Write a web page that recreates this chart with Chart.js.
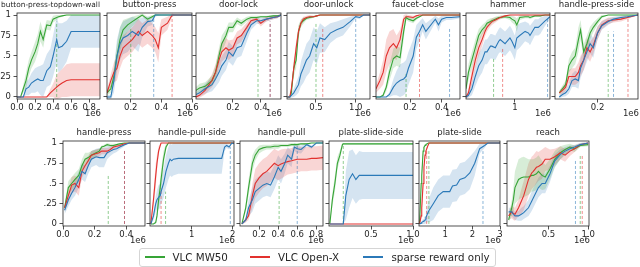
<!DOCTYPE html>
<html><head><meta charset="utf-8">
<script src="https://cdn.jsdelivr.net/npm/chart.js@4.4.1/dist/chart.umd.min.js"></script>
<style>
html,body{margin:0;padding:0;background:#fff;width:640px;height:267px;overflow:hidden;font-family:"DejaVu Sans",sans-serif;}
#wrap{position:relative;width:640px;height:267px;}
#wrap canvas{position:absolute;left:0;top:0;}
.lg{position:absolute;font-size:10.3px;color:#262626;line-height:12px;white-space:nowrap;}
.ll{position:absolute;height:0;width:20px;border-top-style:solid;border-top-width:2px;}
#legend{position:absolute;border:1px solid #d5d5d5;border-radius:3px;box-sizing:border-box;}
</style></head>
<body><div id="wrap"></div>
<script>
// ---------------- data ----------------
const panelTitles = ['button-press-topdown-wall','button-press','door-lock','door-unlock','faucet-close','hammer','handle-press-side',
                     'handle-press','handle-pull-side','handle-pull','plate-slide-side','plate-slide','reach'];
const legendLabels = ['VLC MW50','VLC Open-X','sparse reward only'];
const yTicks = [0, 0.25, 0.5, 0.75, 1];
const yTickLabels = ['0', '.25', '.5', '.75', '1'];
const offsetText = '1e6';

// button-press-topdown-wall
const bptwX = [0,0.04,0.07,0.1,0.13,0.16,0.2,0.23,0.26,0.29,0.33,0.37,0.4,0.44,0.46,0.5,0.55,0.6,0.7,0.8,0.92];
const bptwGreen = [0,0,0.1,0.2,0.35,0.45,0.55,0.65,0.8,0.7,0.88,0.87,0.95,0.97,0.98,0.99,1,1,1,1,1];
const bptwGreenSd = [0,0,0.05,0.1,0.1,0.1,0.12,0.12,0.12,0.1,0.06,0.06,0.04,0.03,0.02,0.01,0,0,0,0,0];
const bptwRed = [0,0,0,0,0,0,0,0,0,0,0,0.05,0.08,0.12,0.14,0.17,0.2,0.21,0.21,0.21,0.21];
const bptwRedSd = [0,0,0,0,0,0,0,0,0,0,0,0.05,0.08,0.15,0.16,0.17,0.2,0.2,0.2,0.2,0.2];
const bptwBlue = [0,0,0,0.1,0.12,0.17,0.2,0.22,0.2,0.2,0.32,0.37,0.5,0.7,0.6,0.62,0.68,0.8,0.8,0.8,0.8];
const bptwBlueSd = [0,0,0,0.08,0.1,0.12,0.15,0.15,0.18,0.2,0.2,0.22,0.25,0.28,0.3,0.28,0.25,0.2,0.2,0.2,0.2];
const bptwDashX = [0.44,null,null], bptwDashTop = [0.92,null,null];
const bptwTicks = [0,0.2,0.4,0.6,0.8], bptwTickLabels = ['0.0','0.2','0.4','0.6','0.8'];

// button-press
const bpX = [0.045,0.07,0.09,0.11,0.13,0.15,0.18,0.21,0.25,0.275,0.31,0.34,0.36,0.38,0.4,0.44,0.47,0.5,0.55,0.6];
const bpGreen = [0.05,0.1,0.25,0.5,0.7,0.82,0.88,0.92,0.97,1,0.95,0.98,1,1,1,1,1,1,1,1];
const bpGreenSd = [0.03,0.05,0.1,0.15,0.15,0.12,0.08,0.06,0.03,0.02,0.03,0.02,0,0,0,0,0,0,0,0];
const bpRed = [0.05,0.2,0.3,0.35,0.5,0.6,0.65,0.7,0.8,0.75,0.8,0.75,0.7,0.6,0.85,0.9,1,1,1,1];
const bpRedSd = [0.03,0.08,0.12,0.15,0.15,0.15,0.15,0.15,0.15,0.15,0.15,0.15,0.15,0.18,0.1,0.08,0.02,0,0,0];
const bpBlue = [0,0,0.2,0.5,0.65,0.72,0.75,0.8,0.75,0.85,0.92,0.93,1,1,1,1,1,1,1,1];
const bpBlueSd = [0.02,0.03,0.15,0.2,0.2,0.2,0.2,0.18,0.2,0.12,0.06,0.05,0.02,0.01,0,0,0,0,0,0];
const bpDashX = [0.2,0.47,0.35], bpDashTop = [0.85,1.0,0.95];
const bpTicks = [0.2,0.4,0.6], bpTickLabels = ['0.2','0.4','0.6'];

// door-lock
const dlX = [-0.065,-0.04,0,0.05,0.075,0.1,0.12,0.15,0.17,0.2,0.23,0.26,0.3,0.33,0.37,0.4,0.44,0.49,0.52,0.545];
const dlGreen = [0.08,0.11,0.13,0.2,0.3,0.5,0.65,0.75,0.85,0.85,0.93,0.9,0.95,0.97,0.97,0.98,0.98,0.99,0.99,1];
const dlGreenSd = [0.04,0.05,0.05,0.06,0.08,0.1,0.1,0.08,0.06,0.06,0.04,0.04,0.03,0.02,0.02,0.01,0.01,0.01,0.01,0];
const dlRed = [0,0.02,0.08,0.2,0.3,0.45,0.55,0.6,0.57,0.6,0.72,0.75,0.85,0.93,0.95,0.9,0.95,0.97,0.98,1];
const dlRedSd = [0.02,0.03,0.05,0.08,0.1,0.12,0.12,0.12,0.12,0.1,0.08,0.08,0.06,0.04,0.03,0.04,0.03,0.02,0.02,0.01];
const dlBlue = [0.03,0.05,0.1,0.15,0.22,0.3,0.38,0.45,0.55,0.5,0.6,0.62,0.78,0.88,0.93,0.93,0.95,0.97,0.98,1];
const dlBlueSd = [0.03,0.04,0.06,0.08,0.1,0.12,0.12,0.12,0.12,0.12,0.12,0.12,0.1,0.06,0.04,0.04,0.03,0.02,0.02,0.01];
const dlDashX = [0.38,0.467,0.467], dlDashTop = [0.7,0.92,0.92];
const dlTicks = [0.2,0.4], dlTickLabels = ['0.2','0.4'];

// door-unlock
const duX = [0.14,0.17,0.19,0.22,0.25,0.28,0.31,0.34,0.38,0.42,0.47,0.51,0.55,0.61,0.68,0.76,0.84,0.93,1.0,1.05,1.1,1.18];
const duGreen = [0,0,0.05,0.35,0.45,0.8,0.9,0.93,0.96,0.97,0.98,0.99,1,1,1,1,1,1,1,1,1,1];
const duGreenSd = [0,0.01,0.03,0.1,0.1,0.08,0.05,0.04,0.02,0.02,0.01,0.01,0,0,0,0,0,0,0,0,0,0];
const duRed = [0,0,0.1,0.35,0.6,0.8,0.9,0.95,0.97,0.98,0.98,0.99,1,1,1,1,1,1,1,1,1,1];
const duRedSd = [0,0.01,0.04,0.08,0.08,0.06,0.04,0.03,0.02,0.02,0.01,0.01,0,0,0,0,0,0,0,0,0,0];
const duBlue = [0,0,0.02,0.05,0.1,0.15,0.28,0.35,0.45,0.5,0.65,0.6,0.72,0.7,0.78,0.82,0.85,0.92,0.98,0.97,1,1];
const duBlueSd = [0,0.01,0.03,0.05,0.08,0.1,0.15,0.18,0.2,0.2,0.2,0.2,0.18,0.15,0.12,0.1,0.1,0.06,0.02,0.02,0,0];
const duDashX = [0.5,0.585,1.0], duDashTop = [0.9,0.83,0.98];
const duTicks = [0.5,1.0], duTickLabels = ['0.5','1.0'];

// faucet-close
const fcX = [-0.015,0.01,0.03,0.05,0.07,0.095,0.115,0.137,0.16,0.175,0.19,0.22,0.24,0.26,0.28,0.3,0.34,0.36,0.38,0.4,0.43,0.46,0.516];
const fcGreen = [0,0,0.02,0.12,0.3,0.47,0.5,0.48,0.8,0.97,0.95,0.93,0.96,0.98,1,1,1,1,1,1,1,1,1];
const fcGreenSd = [0,0,0.02,0.05,0.1,0.12,0.12,0.12,0.1,0.03,0.03,0.03,0.02,0.01,0,0,0,0,0,0,0,0,0];
const fcRed = [0.1,0.2,0.3,0.5,0.6,0.65,0.6,0.7,0.95,0.98,0.98,0.97,0.99,1,1,1,1,1,1,1,1,1,1];
const fcRedSd = [0.05,0.1,0.15,0.2,0.2,0.18,0.15,0.12,0.05,0.03,0.02,0.02,0.01,0,0,0,0,0,0,0,0,0,0];
const fcBlue = [0,0,0,0,0.03,0.12,0.17,0.2,0.22,0.25,0.35,0.5,0.73,0.8,0.88,0.8,0.9,0.95,0.88,0.95,0.97,0.97,0.98];
const fcBlueSd = [0,0,0,0,0.03,0.1,0.15,0.2,0.2,0.2,0.2,0.2,0.15,0.12,0.08,0.1,0.06,0.04,0.08,0.04,0.03,0.03,0.02];
const fcDashX = [0.175,0.26,0.45], fcDashTop = [0.3,0.77,0.85];
const fcTicks = [0.2,0.4], fcTickLabels = ['0.2','0.4'];

// hammer
const hmX = [0,0.05,0.12,0.19,0.26,0.33,0.39,0.43,0.5,0.53,0.6,0.67,0.7,0.8,0.9,0.94,1.0,1.04,1.1,1.21,1.28,1.31,1.41,1.48,1.52,1.62,1.72];
const hmGreen = [0.1,0.3,0.45,0.6,0.75,0.82,0.86,0.9,0.92,0.93,0.95,0.97,0.97,0.98,0.97,0.95,0.93,0.88,0.97,0.98,0.98,0.97,0.99,0.99,0.99,1,1];
const hmGreenSd = [0.05,0.1,0.1,0.1,0.08,0.06,0.05,0.04,0.04,0.03,0.03,0.02,0.02,0.02,0.03,0.04,0.05,0.08,0.03,0.02,0.02,0.02,0.01,0.01,0.01,0,0];
const hmRed = [0,0.05,0.25,0.45,0.6,0.7,0.8,0.85,0.9,0.92,0.94,0.96,0.97,0.99,1,1,1,1,1,1,1,1,1,1,1,1,1];
const hmRedSd = [0.02,0.05,0.1,0.1,0.1,0.08,0.06,0.05,0.04,0.04,0.03,0.02,0.02,0.01,0,0,0,0,0,0,0,0,0,0,0,0,0];
const hmBlue = [0,0.02,0.1,0.25,0.38,0.45,0.55,0.55,0.62,0.62,0.6,0.68,0.7,0.65,0.72,0.68,0.6,0.72,0.75,0.8,0.78,0.75,0.85,0.85,0.87,0.93,0.98];
const hmBlueSd = [0.02,0.03,0.08,0.12,0.15,0.15,0.15,0.15,0.15,0.15,0.15,0.15,0.15,0.15,0.15,0.15,0.15,0.15,0.15,0.12,0.12,0.12,0.1,0.1,0.1,0.06,0.03];
const hmDashX = [0.565,0.75,1.67], hmDashTop = [0.48,0.6,0.96];
const hmTicks = [1], hmTickLabels = ['1'];

// handle-press-side
const hpsX = [0.02,0.035,0.05,0.065,0.08,0.095,0.11,0.12,0.135,0.15,0.165,0.18,0.2,0.22,0.25,0.275,0.31,0.34,0.39];
const hpsGreen = [0.05,0.1,0.15,0.38,0.45,0.5,0.7,0.82,0.55,0.65,0.78,0.85,0.92,0.98,1,1,1,1,1];
const hpsGreenSd = [0.02,0.04,0.05,0.08,0.1,0.1,0.15,0.12,0.1,0.1,0.08,0.06,0.04,0.02,0,0,0,0,0];
const hpsRed = [0.05,0.08,0.12,0.25,0.25,0.25,0.3,0.38,0.45,0.6,0.55,0.63,0.78,0.88,0.93,0.94,0.95,0.97,1];
const hpsRedSd = [0.03,0.04,0.05,0.08,0.1,0.1,0.12,0.12,0.12,0.12,0.12,0.1,0.08,0.05,0.04,0.03,0.03,0.02,0];
const hpsBlue = [0,0.03,0.05,0.1,0.2,0.22,0.2,0.35,0.45,0.55,0.65,0.6,0.78,0.87,0.92,0.95,0.97,0.98,1];
const hpsBlueSd = [0.02,0.03,0.04,0.06,0.08,0.1,0.1,0.12,0.12,0.12,0.12,0.12,0.08,0.05,0.04,0.03,0.02,0.02,0];
const hpsDashX = [0.25,0.343,0.275], hpsDashTop = [0.8,0.96,0.8];
const hpsTicks = [0.2], hpsTickLabels = ['0.2'];

// handle-press
const hpX = [0.01,0.034,0.055,0.076,0.1,0.12,0.14,0.16,0.18,0.21,0.23,0.245,0.26,0.28,0.3,0.32,0.34,0.36,0.39,0.42,0.52];
const hpGreen = [0.2,0.45,0.5,0.55,0.6,0.72,0.8,0.82,0.85,0.88,0.9,0.95,0.96,0.98,0.97,0.97,0.98,0.99,1,1,1];
const hpGreenSd = [0.05,0.08,0.08,0.08,0.08,0.08,0.08,0.06,0.05,0.04,0.03,0.02,0.02,0.02,0.02,0.02,0.01,0.01,0,0,0];
const hpRed = [0.2,0.35,0.48,0.5,0.45,0.65,0.72,0.78,0.85,0.87,0.88,0.9,0.9,0.9,0.92,0.95,0.96,0.97,0.99,1,1];
const hpRedSd = [0.05,0.08,0.1,0.1,0.1,0.08,0.08,0.06,0.05,0.05,0.05,0.04,0.04,0.04,0.03,0.03,0.02,0.02,0.01,0,0];
const hpBlue = [0.17,0.3,0.38,0.45,0.55,0.65,0.62,0.72,0.8,0.83,0.82,0.82,0.82,0.88,0.9,0.92,0.93,0.95,0.98,1,1];
const hpBlueSd = [0.05,0.08,0.08,0.1,0.1,0.1,0.1,0.1,0.1,0.1,0.12,0.12,0.12,0.08,0.06,0.05,0.04,0.03,0.02,0,0];
const hpDashX = [0.287,0.39,0.39], hpDashTop = [0.6,0.91,0.91];
const hpTicks = [0,0.2,0.4], hpTickLabels = ['0.0','0.2','0.4'];

// handle-pull-side
const hplsX = [0,0.065,0.12,0.15,0.19,0.23,0.25,0.31,0.37,0.43,0.47,0.51,0.55,0.67,1.0,1.4,1.73,1.8,1.85,1.91,1.98,2.03];
const hplsGreen = [0,0,0.02,0.1,0.3,0.45,0.55,0.8,0.95,1,1,1,1,1,1,1,1,1,1,1,1,1];
const hplsGreenSd = [0,0,0.02,0.05,0.1,0.12,0.12,0.1,0.04,0,0,0,0,0,0,0,0,0,0,0,0,0];
const hplsRed = [0,0.3,0.6,0.75,0.9,0.97,1,1,1,1,1,1,1,1,1,1,1,1,1,1,1,1];
const hplsRedSd = [0,0.1,0.15,0.1,0.06,0.02,0,0,0,0,0,0,0,0,0,0,0,0,0,0,0,0];
const hplsBlue = [0,0.1,0.25,0.3,0.33,0.35,0.4,0.5,0.65,0.75,0.8,0.78,0.8,0.81,0.81,0.81,0.81,0.95,0.97,0.95,1,0.99];
const hplsBlueSd = [0,0.05,0.1,0.12,0.15,0.15,0.15,0.18,0.2,0.2,0.2,0.2,0.2,0.19,0.19,0.19,0.19,0.05,0.03,0.03,0,0];
const hplsDashX = [0.36,0.25,1.94], hplsDashTop = [0.4,0.44,0.95];
const hplsTicks = [1,2], hplsTickLabels = ['1','2'];

// handle-pull
const hplX = [0.02,0.06,0.09,0.13,0.16,0.2,0.24,0.28,0.32,0.36,0.4,0.43,0.47,0.5,0.54,0.57,0.6,0.64,0.7,0.75,0.8,0.87];
const hplGreen = [0,0.2,0.45,0.75,0.85,0.92,0.94,0.95,0.95,0.96,0.96,0.97,0.97,0.97,0.98,0.98,0.98,0.99,0.99,1,1,1];
const hplGreenSd = [0,0.05,0.1,0.1,0.07,0.05,0.04,0.03,0.03,0.03,0.03,0.02,0.02,0.02,0.02,0.02,0.02,0.01,0.01,0,0,0];
const hplRed = [0,0.05,0.1,0.35,0.5,0.57,0.62,0.65,0.7,0.75,0.72,0.74,0.76,0.77,0.78,0.79,0.8,0.8,0.8,0.81,0.81,0.82];
const hplRedSd = [0,0.03,0.05,0.15,0.18,0.18,0.18,0.18,0.18,0.18,0.18,0.18,0.17,0.16,0.16,0.16,0.16,0.15,0.15,0.15,0.15,0.15];
const hplBlue = [0,0.05,0.2,0.3,0.4,0.44,0.48,0.5,0.48,0.58,0.7,0.65,0.75,0.85,0.8,0.95,0.93,0.92,0.98,0.95,1,1];
const hplBlueSd = [0,0.03,0.1,0.15,0.15,0.15,0.15,0.15,0.15,0.15,0.15,0.15,0.12,0.1,0.1,0.05,0.05,0.05,0.02,0.02,0,0];
const hplDashX = [0.41,null,0.6], hplDashTop = [0.5,null,0.97];
const hplTicks = [0.2,0.4,0.6,0.8], hplTickLabels = ['0.2','0.4','0.6','0.8'];

// plate-slide-side
const pssX = [0.01,0.04,0.07,0.1,0.13,0.16,0.17,0.2,0.24,0.28,0.32,0.36,0.4,0.6,0.8,1.0];
const pssGreen = [0,0.3,0.5,0.75,0.85,0.98,0.99,0.99,0.99,0.99,0.99,0.99,0.99,0.99,0.99,0.99];
const pssGreenSd = [0,0.08,0.1,0.08,0.06,0.02,0.01,0.01,0.01,0.01,0.01,0.01,0.01,0.01,0.01,0.01];
const pssRed = [0,0,0,0,0,0,0,0,0,0,0,0,0,0,0,0];
const pssRedSd = [0,0,0,0,0,0,0,0,0,0,0,0,0,0,0,0];
const pssBlue = [0,0,0,0,0,0,0,0.35,0.55,0.62,0.55,0.6,0.6,0.6,0.6,0.6];
const pssBlueSd = [0,0,0,0,0,0,0,0.3,0.35,0.3,0.3,0.3,0.29,0.29,0.29,0.29];
const pssDashX = [0.17,null,null], pssDashTop = [0.99,null,null];
const pssTicks = [0.5,1.0], pssTickLabels = ['0.5','1.0'];

// plate-slide
const psX = [0.07,0.13,0.15,0.2,0.23,0.27,0.3,0.39,0.42,0.57,0.75,0.93,1.17,1.27,1.42,1.54,1.72,1.9,2.08,2.26,2.44,2.56,3.0];
const psGreen = [0,0.5,0.6,0.9,0.95,0.97,0.98,1,1,1,1,1,1,1,1,1,1,1,1,1,1,1,1];
const psGreenSd = [0,0.08,0.08,0.05,0.03,0.02,0.01,0,0,0,0,0,0,0,0,0,0,0,0,0,0,0,0];
const psRed = [0,0.1,0.2,0.5,0.7,0.85,0.9,0.98,1,1,1,1,1,1,1,1,1,1,1,1,1,1,1];
const psRedSd = [0,0.05,0.08,0.1,0.08,0.05,0.04,0.01,0,0,0,0,0,0,0,0,0,0,0,0,0,0,0];
const psBlue = [0,0.01,0.02,0.03,0.04,0.05,0.08,0.15,0.17,0.25,0.35,0.4,0.4,0.47,0.48,0.55,0.57,0.63,0.75,0.93,0.97,1,1];
const psBlueSd = [0,0.01,0.02,0.03,0.04,0.05,0.07,0.12,0.15,0.2,0.2,0.2,0.2,0.2,0.2,0.2,0.2,0.2,0.15,0.06,0.03,0,0];
const psDashX = [0.41,0.33,2.38], psDashTop = [0.9,0.9,0.9];
const psTicks = [1,2,3], psTickLabels = ['1','2','3'];

// reach
const rcX = [0,0.04,0.06,0.08,0.125,0.16,0.19,0.25,0.29,0.31,0.35,0.375,0.42,0.46,0.52,0.58,0.65,0.71,0.77,0.83,0.9,1.0];
const rcGreen = [0.05,0.2,0.3,0.45,0.55,0.57,0.58,0.58,0.6,0.6,0.62,0.65,0.6,0.58,0.68,0.8,0.88,0.92,0.95,0.93,0.97,0.98];
const rcGreenSd = [0.03,0.1,0.15,0.2,0.25,0.25,0.25,0.22,0.2,0.2,0.2,0.2,0.18,0.15,0.12,0.1,0.08,0.06,0.04,0.04,0.02,0.02];
const rcRed = [0.1,0.15,0.13,0.12,0.2,0.28,0.35,0.55,0.63,0.65,0.7,0.71,0.74,0.8,0.8,0.83,0.88,0.85,0.9,0.93,0.98,1];
const rcRedSd = [0.05,0.08,0.08,0.08,0.1,0.15,0.18,0.2,0.2,0.2,0.2,0.18,0.18,0.15,0.12,0.1,0.08,0.08,0.06,0.04,0.02,0.01];
const rcBlue = [0.15,0.15,0.12,0.1,0.1,0.12,0.14,0.2,0.28,0.32,0.4,0.45,0.5,0.5,0.62,0.78,0.86,0.9,0.93,0.95,0.98,1];
const rcBlueSd = [0.05,0.05,0.05,0.05,0.06,0.08,0.08,0.1,0.12,0.12,0.12,0.12,0.12,0.12,0.1,0.08,0.06,0.05,0.04,0.03,0.02,0.01];
const rcDashX = [0.9,0.925,0.84], rcDashTop = [0.85,0.85,0.8];
const rcTicks = [0.5,1.0], rcTickLabels = ['0.5','1.0'];

// ---------------- panel assembly ----------------
const panelSeries = [
  [bptwX,[bptwGreen,bptwRed,bptwBlue],[bptwGreenSd,bptwRedSd,bptwBlueSd],bptwDashX,bptwDashTop,bptwTicks,bptwTickLabels],
  [bpX,[bpGreen,bpRed,bpBlue],[bpGreenSd,bpRedSd,bpBlueSd],bpDashX,bpDashTop,bpTicks,bpTickLabels],
  [dlX,[dlGreen,dlRed,dlBlue],[dlGreenSd,dlRedSd,dlBlueSd],dlDashX,dlDashTop,dlTicks,dlTickLabels],
  [duX,[duGreen,duRed,duBlue],[duGreenSd,duRedSd,duBlueSd],duDashX,duDashTop,duTicks,duTickLabels],
  [fcX,[fcGreen,fcRed,fcBlue],[fcGreenSd,fcRedSd,fcBlueSd],fcDashX,fcDashTop,fcTicks,fcTickLabels],
  [hmX,[hmGreen,hmRed,hmBlue],[hmGreenSd,hmRedSd,hmBlueSd],hmDashX,hmDashTop,hmTicks,hmTickLabels],
  [hpsX,[hpsGreen,hpsRed,hpsBlue],[hpsGreenSd,hpsRedSd,hpsBlueSd],hpsDashX,hpsDashTop,hpsTicks,hpsTickLabels],
  [hpX,[hpGreen,hpRed,hpBlue],[hpGreenSd,hpRedSd,hpBlueSd],hpDashX,hpDashTop,hpTicks,hpTickLabels],
  [hplsX,[hplsGreen,hplsRed,hplsBlue],[hplsGreenSd,hplsRedSd,hplsBlueSd],hplsDashX,hplsDashTop,hplsTicks,hplsTickLabels],
  [hplX,[hplGreen,hplRed,hplBlue],[hplGreenSd,hplRedSd,hplBlueSd],hplDashX,hplDashTop,hplTicks,hplTickLabels],
  [pssX,[pssGreen,pssRed,pssBlue],[pssGreenSd,pssRedSd,pssBlueSd],pssDashX,pssDashTop,pssTicks,pssTickLabels],
  [psX,[psGreen,psRed,psBlue],[psGreenSd,psRedSd,psBlueSd],psDashX,psDashTop,psTicks,psTickLabels],
  [rcX,[rcGreen,rcRed,rcBlue],[rcGreenSd,rcRedSd,rcBlueSd],rcDashX,rcDashTop,rcTicks,rcTickLabels]
];

// layout (positions / axis limits / styles)
const boxes = [
  {l:17,r:100,t:13,b:99,xmin:0,xmax:0.92,yl:true,ts:7.4,tx:50.5},
  {l:107,r:192,t:13,b:99,xmin:0.045,xmax:0.6},
  {l:196,r:281,t:13,b:99,xmin:-0.065,xmax:0.545},
  {l:287,r:370,t:13,b:99,xmin:0.135,xmax:1.18},
  {l:376,r:460,t:13,b:99,xmin:-0.015,xmax:0.516},
  {l:466,r:550,t:13,b:99,xmin:0,xmax:1.72},
  {l:555,r:638,t:13,b:99,xmin:0,xmax:0.39},
  {l:63,r:145,t:141,b:226,xmin:0,xmax:0.52,yl:true},
  {l:150,r:234,t:141,b:226,xmin:-0.02,xmax:2.03},
  {l:240,r:323,t:141,b:226,xmin:0,xmax:0.87},
  {l:329,r:413,t:141,b:226,xmin:0,xmax:1.0},
  {l:419,r:500,t:141,b:226,xmin:0.05,xmax:3.0},
  {l:507,r:589,t:141,b:226,xmin:-0.02,xmax:1.01}
];
const COLORS = ['#36a436', '#e2312e', '#2b79b8'];
const INK = '#262626';
function rgba(hex, a) {
  const n = parseInt(hex.slice(1), 16);
  return `rgba(${(n>>16)&255},${(n>>8)&255},${n&255},${a})`;
}

Chart.defaults.font.family = '"DejaVu Sans", sans-serif';
Chart.defaults.color = INK;

const decor = {
  id: 'decor',
  afterDraw(chart, args, o) {
    const {ctx, chartArea: a} = chart;
    ctx.save();
    ctx.strokeStyle = INK; ctx.lineWidth = 0.8;
    ctx.strokeRect(a.left, a.top, a.right - a.left, a.bottom - a.top);
    ctx.fillStyle = INK;
    ctx.font = o.titleSize + 'px "DejaVu Sans"';
    ctx.textAlign = 'center'; ctx.textBaseline = 'alphabetic';
    ctx.fillText(o.title, o.titleX != null ? o.titleX : (a.left + a.right) / 2, a.top - 6);
    ctx.font = '8.5px "DejaVu Sans"';
    ctx.textAlign = 'right'; ctx.textBaseline = 'middle';
    ctx.fillText(offsetText, a.right + 1, a.bottom + 14.5);
    ctx.restore();
  }
};

const wrap = document.getElementById('wrap');
panelSeries.forEach((ps, idx) => {
  const [xs, means, sds, dashX, dashTop, ticks, tickLabels] = ps;
  const bx = boxes[idx];
  const datasets = [];
  means.forEach((m, k) => {
    const s = sds[k];
    datasets.push({data: xs.map((x, i) => ({x, y: m[i] + s[i]})), borderWidth: 0, borderColor: 'transparent',
      backgroundColor: rgba(COLORS[k], 0.2), fill: '+1', pointRadius: 0, order: 20});
    datasets.push({data: xs.map((x, i) => ({x, y: m[i] - s[i]})), borderWidth: 0, borderColor: 'transparent',
      fill: false, pointRadius: 0, order: 20});
  });
  dashX.forEach((dx, k) => {
    if (dx == null) return;
    datasets.push({data: [{x: dx, y: 0}, {x: dx, y: dashTop[k]}], borderColor: rgba(COLORS[k], 0.55),
      borderWidth: 1, borderDash: [3, 2], fill: false, pointRadius: 0, order: 10});
  });
  means.forEach((m, k) => {
    datasets.push({data: xs.map((x, i) => ({x, y: m[i]})), borderColor: COLORS[k], borderWidth: 1.1,
      fill: false, pointRadius: 0, order: 3 - k});
  });

  const yw = bx.yl ? Math.min(22, bx.l) : 4;
  const cv = document.createElement('canvas');
  cv.width = 640; cv.height = 267;
  cv.style.width = '640px'; cv.style.height = '267px';
  wrap.appendChild(cv);
  new Chart(cv, {
    type: 'line',
    data: {datasets},
    options: {
      responsive: false, animation: false, devicePixelRatio: 1,
      layout: {padding: {left: bx.l - yw, right: 640 - bx.r, top: bx.t, bottom: 267 - bx.b - 20}},
      elements: {line: {tension: 0}, point: {radius: 0}},
      plugins: {legend: {display: false}, tooltip: {enabled: false}, title: {display: false},
        decor: {title: panelTitles[idx], titleSize: bx.ts || 8.5, titleX: bx.tx}},
      scales: {
        x: {type: 'linear', min: bx.xmin, max: bx.xmax,
          afterBuildTicks: s => { s.ticks = ticks.map(v => ({value: v})); },
          afterFit: s => { s.height = 20; },
          border: {display: false},
          grid: {drawOnChartArea: false, drawTicks: true, tickLength: 3.5, tickColor: INK, tickWidth: 0.8},
          ticks: {autoSkip: false, maxRotation: 0, padding: 0, color: INK, font: {size: 8.5},
            callback: (v) => { const j = ticks.indexOf(v); return j >= 0 ? tickLabels[j] : ''; }}
        },
        y: {type: 'linear', min: -0.025, max: 1.025,
          afterBuildTicks: s => { s.ticks = yTicks.map(v => ({value: v})); },
          afterFit: s => { s.width = yw; },
          border: {display: false},
          grid: {drawOnChartArea: false, drawTicks: true, tickLength: 3.5, tickColor: INK, tickWidth: 0.8},
          ticks: {display: !!bx.yl, padding: 2.5, color: INK, font: {size: 8.5},
            callback: (v) => { const j = yTicks.indexOf(v); return j >= 0 ? yTickLabels[j] : ''; }}
        }
      }
    },
    plugins: [decor]
  });
});

// legend (HTML text)
const lgBox = document.createElement('div');
lgBox.id = 'legend';
Object.assign(lgBox.style, {left: '139px', top: '248px', width: '357px', height: '19px'});
wrap.appendChild(lgBox);
const lgPos = [{line: 145, text: 172.5}, {line: 250, text: 278}, {line: 363, text: 391.5}];
legendLabels.forEach((lab, k) => {
  const ln = document.createElement('div');
  ln.className = 'll';
  ln.style.left = lgPos[k].line + 'px';
  ln.style.top = '256px';
  ln.style.borderTopColor = COLORS[k];
  wrap.appendChild(ln);
  const tx = document.createElement('div');
  tx.className = 'lg';
  tx.textContent = lab;
  tx.style.left = lgPos[k].text + 'px';
  tx.style.top = '251px';
  wrap.appendChild(tx);
});
</script>
</body></html>
